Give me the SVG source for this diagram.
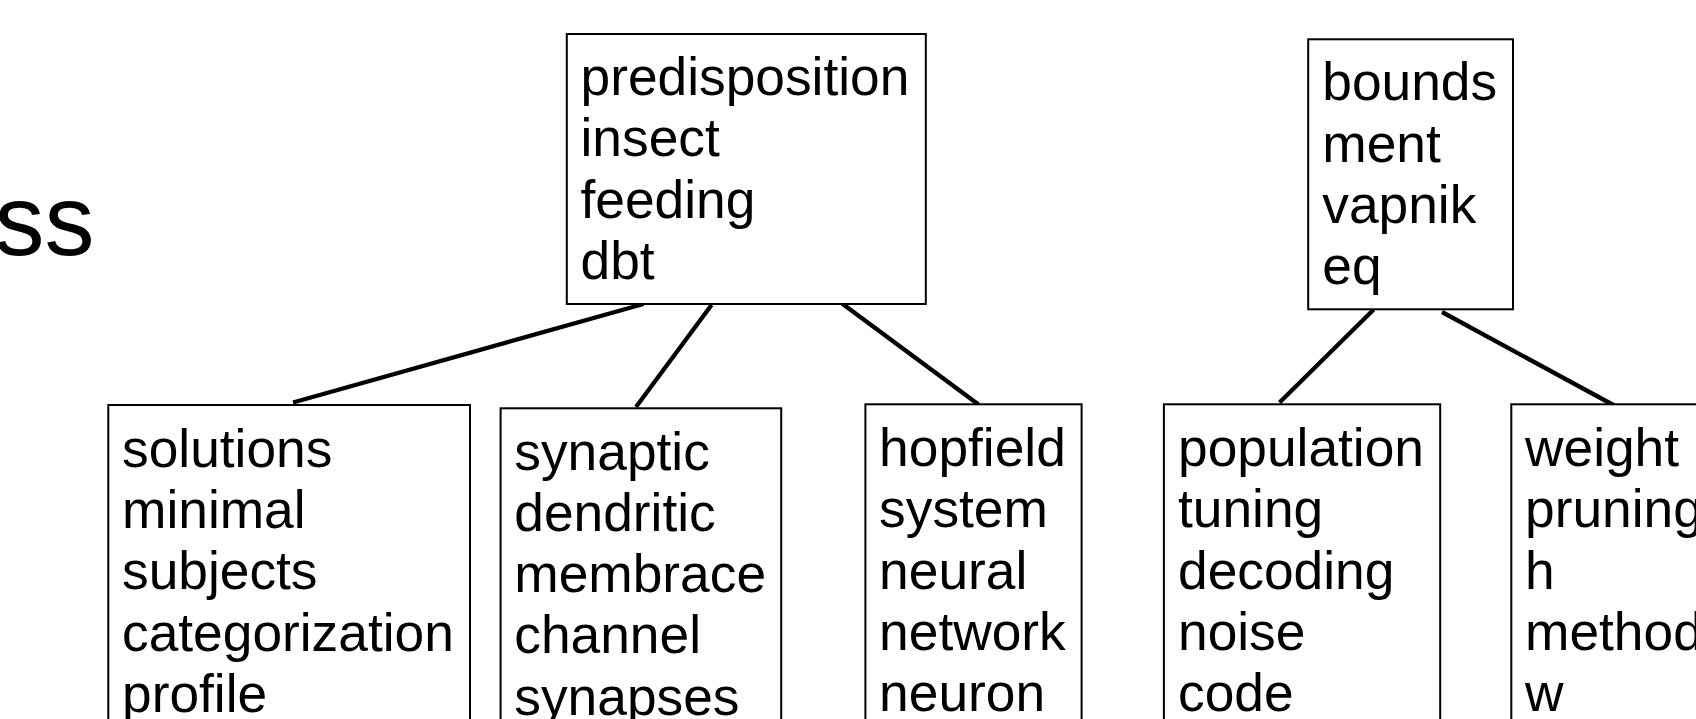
<svg xmlns="http://www.w3.org/2000/svg" width="1696" height="719" viewBox="0 0 1696 719">
<style>
.box{fill:#fff;stroke:#000;stroke-width:2}
.t{font-family:"Liberation Sans",Arial,sans-serif;font-size:53.3px;fill:#000}
.edge{stroke:#000;stroke-width:4.3;fill:none;stroke-linecap:butt}
</style>
<rect width="1696" height="719" fill="#fff"/>
<text x="-5.5" y="254.5" style="font-family:'Liberation Sans',Arial,sans-serif;font-size:100px;fill:#000">ss</text>
<g id="connectors">
<line class="edge" x1="643.5" y1="304" x2="293" y2="402.5"/>
<line class="edge" x1="711.5" y1="305" x2="636" y2="407"/>
<line class="edge" x1="840" y1="302" x2="978.5" y2="404.5"/>
<line class="edge" x1="1373.7" y1="309.5" x2="1279.5" y2="402.5"/>
<line class="edge" x1="1442" y1="312" x2="1617" y2="407"/>
</g>
<g id="n-top1">
<rect class="box" x="566.8" y="34" width="359" height="270"/>
<text class="t" x="580.5" y="95">predisposition</text>
<text class="t" x="580.5" y="156.3">insect</text>
<text class="t" x="580.5" y="217.6">feeding</text>
<text class="t" x="580.5" y="278.9">dbt</text>
</g>
<g id="n-top2">
<rect class="box" x="1308.2" y="39.3" width="204.8" height="270"/>
<text class="t" x="1322.3" y="100.3">bounds</text>
<text class="t" x="1322.3" y="161.6">ment</text>
<text class="t" x="1322.3" y="222.9">vapnik</text>
<text class="t" x="1322.3" y="284.2">eq</text>
</g>
<g id="n-b1">
<rect class="box" x="108.3" y="405" width="361.7" height="360"/>
<text class="t" x="122" y="466.7">solutions</text>
<text class="t" x="122" y="528">minimal</text>
<text class="t" x="122" y="589.3">subjects</text>
<text class="t" x="122" y="650.6">categorization</text>
<text class="t" x="122" y="711.9">profile</text>
</g>
<g id="n-b2">
<rect class="box" x="500.6" y="408.3" width="280.6" height="360"/>
<text class="t" x="514.3" y="469.5">synaptic</text>
<text class="t" x="514.3" y="530.8">dendritic</text>
<text class="t" x="514.3" y="592.1">membrace</text>
<text class="t" x="514.3" y="653.4">channel</text>
<text class="t" x="514.3" y="714.7">synapses</text>
</g>
<g id="n-b3">
<rect class="box" x="865.4" y="404.3" width="216.2" height="360"/>
<text class="t" x="879.1" y="466">hopfield</text>
<text class="t" x="879.1" y="527.3">system</text>
<text class="t" x="879.1" y="588.6">neural</text>
<text class="t" x="879.1" y="649.9">network</text>
<text class="t" x="879.1" y="711.2">neuron</text>
</g>
<g id="n-b4">
<rect class="box" x="1163.9" y="404.3" width="276.3" height="360"/>
<text class="t" x="1178" y="466">population</text>
<text class="t" x="1178" y="527.3">tuning</text>
<text class="t" x="1178" y="588.6">decoding</text>
<text class="t" x="1178" y="649.9">noise</text>
<text class="t" x="1178" y="711.2">code</text>
</g>
<g id="n-b5">
<rect class="box" x="1511.3" y="404.3" width="260" height="360"/>
<text class="t" x="1525" y="466">weight</text>
<text class="t" x="1525" y="527.3">pruning</text>
<text class="t" x="1525" y="588.6">h</text>
<text class="t" x="1525" y="649.9">method</text>
<text class="t" x="1525" y="711.2">w</text>
</g>
</svg>
